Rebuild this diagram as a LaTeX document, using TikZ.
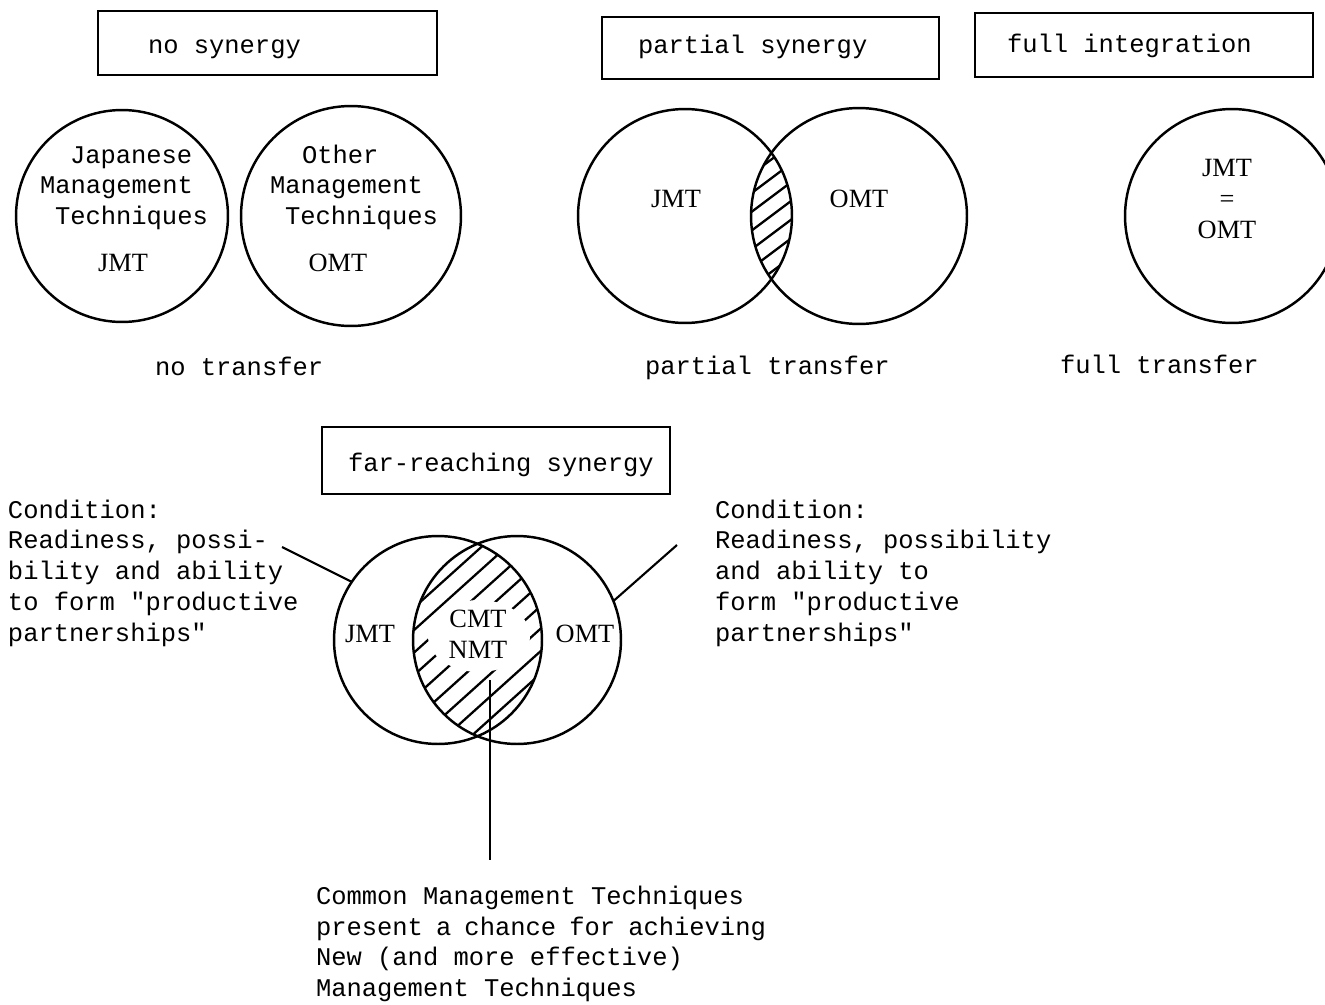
\documentclass[tikz,border=0pt]{standalone}
\usepackage{fontspec}
\newfontfamily\tw[Ligatures=TeXOff]{Liberation Mono}
\newfontfamily\ab{Liberation Serif}
\begin{document}
\begin{tikzpicture}[x=0.02cm,y=-0.02cm,
  every node/.style={inner sep=0pt,outer sep=0pt},
  txt/.style={font=\tw\fontsize{14.5}{17.64}\selectfont,anchor=base west},
  para/.style={txt,text width=9cm,align=left,
    execute at begin node={\spaceskip=0pt\xspaceskip=0pt\relax}},
  abbr/.style={font=\ab\fontsize{15}{17.64}\selectfont,anchor=base},
  frame/.style={draw,rectangle,line width=1.2pt},
  ring/.style={draw,circle,line width=1.4pt},
  hatch/.style={line width=1.3pt},
  lead/.style={line width=1.2pt}]
\useasboundingbox (0,0) rectangle (1325,1004);
\clip (0,0) rectangle (1325,1004);

% ---------- headings ----------
\node[frame,minimum width=6.78cm,minimum height=1.28cm] (hnone) at (267.5,43) {};
\node[txt] (hnonet) at (148,53) {no synergy};
\node[frame,minimum width=6.74cm,minimum height=1.24cm] (hpart) at (770.5,48) {};
\node[txt] (hpartt) at (638,53) {partial synergy};
\node[frame,minimum width=6.76cm,minimum height=1.28cm] (hfull) at (1144,45) {};
\node[txt] (hfullt) at (1007,52) {full integration};
\node[frame,minimum width=6.96cm,minimum height=1.34cm] (hfar) at (496,460.5) {};
\node[txt] (hfart) at (348,471) {far-reaching synergy};

% ---------- no synergy ----------
\node[ring,minimum size=4.24cm] (nl) at (122,216) {};
\node[ring,minimum size=4.40cm] (nr) at (351,216) {};
\node[txt] (nl1) at (70,163) {Japanese};
\node[txt] (nl2) at (40,193) {Management};
\node[txt] (nl3) at (55,224) {Techniques};
\node[abbr] (nl4) at (123,271) {JMT};
\node[txt] (nr1) at (302,163) {Other};
\node[txt] (nr2) at (270,193) {Management};
\node[txt] (nr3) at (285,224) {Techniques};
\node[abbr] (nr4) at (338,271) {OMT};
\node[txt] (nlab) at (155,375) {no transfer};

% ---------- partial synergy ----------
\coordinate (pc1) at (685,216);
\coordinate (pc2) at (859,216);
\begin{scope}
  \clip (pc1) circle (2.14cm);
  \clip (pc2) circle (2.16cm);
  \foreach \k in {-8,...,8}
    \draw[hatch] ({771+\k*25-200},{216+150}) -- ++(400,-300);
\end{scope}
\node[ring,minimum size=4.28cm] (pl) at (pc1) {};
\node[ring,minimum size=4.32cm] (pr) at (pc2) {};
\node[abbr] (pl1) at (676,207) {JMT};
\node[abbr] (pr1) at (859,207) {OMT};
\node[txt] (plab) at (645,374) {partial transfer};

% ---------- full integration ----------
\node[ring,minimum size=4.28cm] (fi) at (1232,216) {};
\node[abbr,anchor=center,align=center] (fit) at (1227,199) {JMT\\=\\OMT};
\node[txt] (flab) at (1060,373) {full transfer};

% ---------- far-reaching synergy ----------
\coordinate (fc1) at (438,640);
\coordinate (fc2) at (517,640);
\begin{scope}
  \clip (fc1) circle (2.08cm);
  \clip (fc2) circle (2.08cm);
  \foreach \k in {-10,...,10}
    \draw[hatch] ({478+\k*25-250},{640+225}) -- ++(500,-450);
  \fill[white] (479,636) ellipse (1.02cm and 0.72cm);
\end{scope}
\node[ring,minimum size=4.16cm] (fl) at (fc1) {};
\node[ring,minimum size=4.16cm] (fr) at (fc2) {};
\node[abbr] (fl1) at (370,642) {JMT};
\node[abbr] (fr1) at (585,642) {OMT};
\node[abbr] (fm1) at (478,627) {CMT};
\node[abbr] (fm2) at (478,658) {NMT};

% condition notes and their leaders
\node[para] (condl) at (8,518) {Condition:\\Readiness, possi-\\bility and ability\\to form "productive\\partnerships"};
\node[para] (condr) at (715,518) {Condition:\\Readiness, possibility\\and ability to\\form "productive\\partnerships"};
\coordinate (lc) at (282,547);
\coordinate (rc) at (677,545);
\draw[lead] (lc) -- (fl.146);
\draw[lead] (rc) -- (fr.22);

% common techniques note
\coordinate (ptop) at (490,680);
\coordinate (pbot) at (490,860);
\draw[lead] (ptop) -- (pbot);
\node[para] (cmt) at (316,904) {Common Management Techniques\\present a chance for achieving\\New (and more effective)\\Management Techniques};
\end{tikzpicture}
\end{document}
